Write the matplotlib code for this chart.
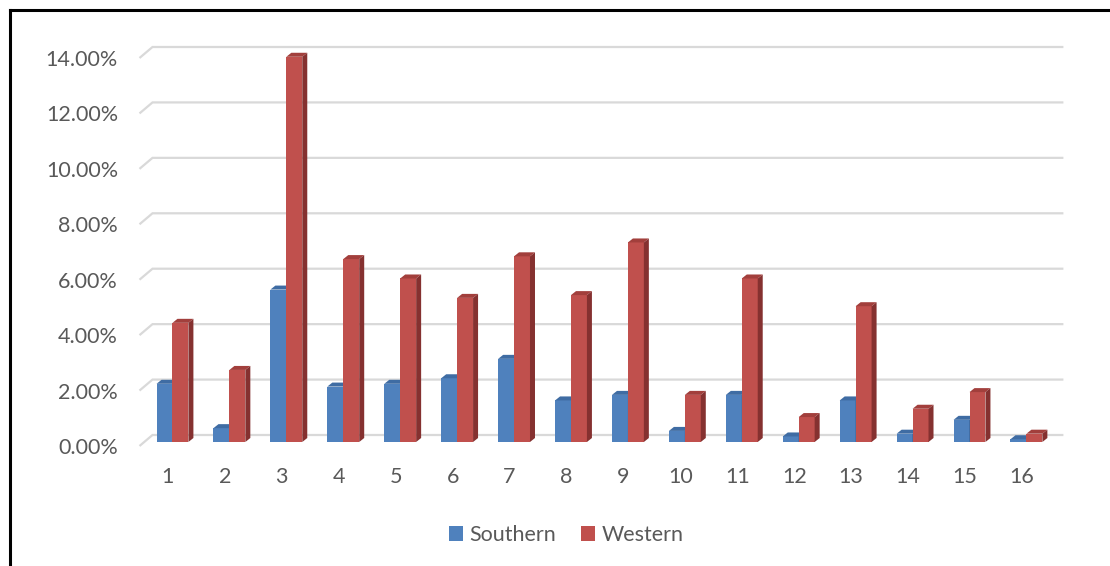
import matplotlib
matplotlib.use("Agg")
import matplotlib.pyplot as plt
from matplotlib.lines import Line2D
from matplotlib.patches import Patch
import numpy as np

# ---- data -------------------------------------------------------------
categories = [str(i) for i in range(1, 17)]
southern = [2.1, 0.5, 5.5, 2.0, 2.1, 2.3, 3.0, 1.5, 1.7, 0.4, 1.7, 0.2, 1.5, 0.3, 0.8, 0.1]
western = [4.3, 2.6, 13.9, 6.6, 5.9, 5.2, 6.7, 5.3, 7.2, 1.7, 5.9, 0.9, 4.9, 1.2, 1.8, 0.3]
y_ticks = [0, 2, 4, 6, 8, 10, 12, 14]
y_tick_labels = ["0.00%", "2.00%", "4.00%", "6.00%", "8.00%", "10.00%", "12.00%", "14.00%"]
series_names = ["Southern", "Western"]

# ---- style ------------------------------------------------------------
FONT = "Lato"
TEXT_COLOR = "#595959"
GRID_COLOR = "#D9D9D9"
colors = {
    "Southern": {"front": "#4F81BD", "top": "#3F6CA3", "side": "#36598A"},
    "Western": {"front": "#C0504D", "top": "#A23F3C", "side": "#853130"},
}

W, H, DPI = 1110, 566, 100
fig = plt.figure(figsize=(W / DPI, H / DPI), dpi=DPI)

# axes area = front plane of the 3D box (pixel layout)
ax_left_px, ax_right_px = 139.5, 1050.4
zero_px, top_px = 446.0, 58.0          # image y of 0% and 14% on the front plane
ax = fig.add_axes([ax_left_px / W, 1 - zero_px / H,
                   (ax_right_px - ax_left_px) / W, (zero_px - top_px) / H])
n = len(categories)
ax.set_xlim(0.5, n + 0.5)
ax.set_ylim(0, 14)
ax.set_autoscale_on(False)
ax.patch.set_alpha(0)
for s in ax.spines.values():
    s.set_visible(False)

# pixel -> data unit conversions
px_x = (ax_right_px - ax_left_px) / n          # pixels per category
px_y = (zero_px - top_px) / 14.0               # pixels per percent
def dx(p):
    return p / px_x
def dy(p):
    return p / px_y

# depth offsets (pixels): floor front edge -> bar plane -> back wall
bar_plane = (4.5, 4.0)
back_wall = (13.0, 11.0)
bar_depth = (5.0, 4.0)

# back-wall gridlines with the short diagonal on the left side wall
for v in y_ticks:
    bx, by = dx(back_wall[0]), v + dy(back_wall[1])
    ax.plot([0.5, 0.5 + bx, n + 0.5 + bx], [v, by, by],
            color=GRID_COLOR, lw=1.6, solid_capstyle="butt",
            solid_joinstyle="miter", zorder=1, clip_on=False)

# 3D-style columns
bw = 0.28
x = np.arange(1, n + 1)
base_x = x + dx(bar_plane[0])
base_y = dy(bar_plane[1])
ddx, ddy = dx(bar_depth[0]), dy(bar_depth[1])
for name, vals, side in ((series_names[0], southern, -1), (series_names[1], western, 1)):
    c = colors[name]
    lefts = base_x + (bw * (side - 1) / 2)
    ax.bar(lefts, vals, width=bw, bottom=base_y, align="edge",
           color=c["front"], edgecolor="none", zorder=3, clip_on=False)
    for xl, v in zip(lefts, vals):
        top = base_y + v
        xr = xl + bw
        ax.fill([xl, xr, xr + ddx, xl + ddx], [top, top, top + ddy, top + ddy],
                color=c["top"], lw=0, zorder=3, clip_on=False)
        ax.fill([xr, xr + ddx, xr + ddx, xr], [base_y, base_y + ddy, top + ddy, top],
                color=c["side"], lw=0, zorder=3, clip_on=False)

# ticks and labels
ax.set_yticks(y_ticks)
ax.set_yticklabels(y_tick_labels, fontsize=15.5, fontfamily=FONT, color=TEXT_COLOR)
ax.set_xticks(x)
ax.set_xticklabels(categories, fontsize=15.5, fontfamily=FONT, color=TEXT_COLOR)
ax.tick_params(axis="y", length=0, pad=15.5)
ax.tick_params(axis="x", length=0, pad=15)

# legend
handles = [Patch(facecolor=colors[nm]["front"], edgecolor="none", label=nm) for nm in series_names]
fig.legend(handles=handles, loc="center", bbox_to_anchor=(566 / W, 1 - 535 / H), ncol=2,
           frameon=False, prop={"family": FONT, "size": 15.5}, labelcolor=TEXT_COLOR,
           handlelength=0.65, handleheight=0.65, handletextpad=0.3, columnspacing=1.15)

# outer frame (top and left edges)
fig.add_artist(Line2D([10 / W, 10 / W], [0, 1 - 10 / H], color="black", lw=2.2,
                      transform=fig.transFigure, solid_capstyle="projecting"))
fig.add_artist(Line2D([10 / W, 1], [1 - 10 / H, 1 - 10 / H], color="black", lw=2.2,
                      transform=fig.transFigure, solid_capstyle="projecting"))

fig.savefig("out.png", dpi=DPI, facecolor="white")
